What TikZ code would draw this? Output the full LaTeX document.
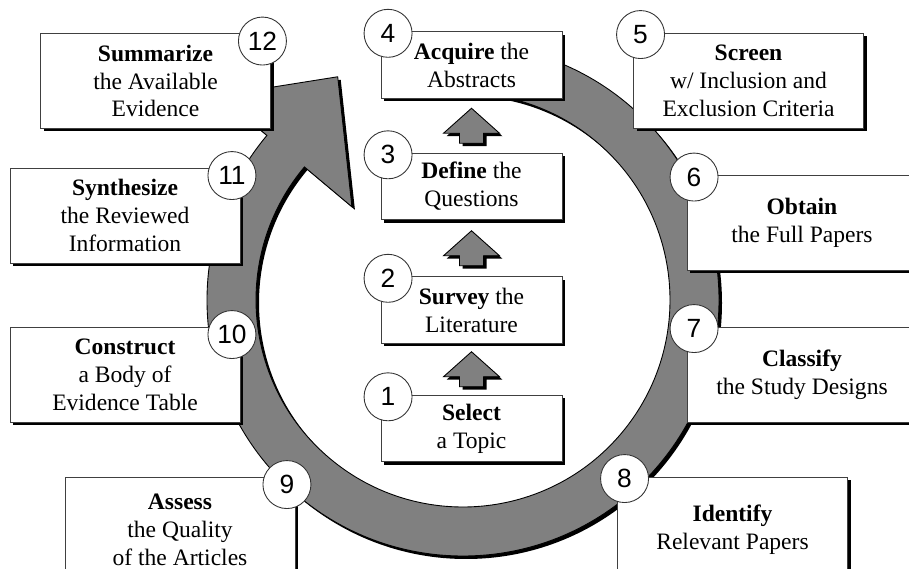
\documentclass[tikz,border=0pt]{standalone}
\usepackage{fontspec}
\setmainfont{Liberation Serif}
\newfontfamily\numfont{Liberation Sans}
\usetikzlibrary{calc,shadows}

\tikzset{
  blackshadow/.style={drop shadow={shadow xshift=0.06cm, shadow yshift=-0.06cm, fill=black, opacity=1}},
  stepbox/.style={draw=black!75, line width=0.5pt, fill=white, blackshadow, align=center, inner sep=0pt,
    minimum width=4.6cm, minimum height=1.9cm, font=\fontsize{13.4}{15.9}\selectfont},
  smallbox/.style={stepbox, minimum width=3.62cm, minimum height=1.33cm},
  lowbox/.style={stepbox, minimum height=2.12cm},
  num/.style={circle, draw=black!80, line width=0.5pt, fill=white, minimum size=0.96cm, inner sep=0pt,
    font=\numfont\fontsize{15}{15}\selectfont},
  uparrow/.style={draw=black, line width=0.5pt, fill=gray, blackshadow}
}

\begin{document}
\begin{tikzpicture}
            \useasboundingbox (0,0) rectangle (18.18,-11.38);
            \clip (0,0) rectangle (18.18,-11.38);

            % big circular arrow behind the boxes
            \coordinate (C) at (9.26,-6.0);
            \filldraw[fill=gray, draw=black, line width=0.5pt, blackshadow]
                ($(C)+(90:5.12)$) arc[start angle=90, end angle=-220, radius=5.12]
                -- ($(C)+(140:6.36)$) -- ($(C)+(119.3:5.12)$) -- ($(C)+(140:2.9)$)
                -- ($(C)+(140:4.14)$) arc[start angle=140, end angle=450, radius=4.14] -- cycle;

            % middle column
            \node[smallbox] (SEL) at (9.43,-8.57) {\textbf{Select}\\a Topic};
            \node[smallbox] (SUR) at (9.43,-6.2) {\textbf{Survey} the\\Literature};
            \node[smallbox] (DEF) at (9.43,-3.73) {\textbf{Define} the\\Questions};
            \node[smallbox] (ACQ) at (9.43,-1.3) {\textbf{Acquire} the\\Abstracts};

            % right side
            \node[stepbox] (SCR) at (14.97,-1.61) {\textbf{Screen}\\w/ Inclusion and\\Exclusion Criteria};
            \node[stepbox] (OBT) at (16.04,-4.46) {\textbf{Obtain}\\the Full Papers};
            \node[stepbox] (CLA) at (16.04,-7.49) {\textbf{Classify}\\the Study Designs};
            \node[lowbox] (IDE) at (14.65,-10.6) {\textbf{Identify}\\Relevant Papers};

            % left side
            \node[lowbox] (ASS) at (3.6,-10.6) {\textbf{Assess}\\the Quality\\of the Articles};
            \node[stepbox] (CON) at (2.5,-7.49) {\textbf{Construct}\\a Body of\\Evidence Table};
            \node[stepbox] (SYN) at (2.5,-4.31) {\textbf{Synthesize}\\the Reviewed\\Information};
            \node[stepbox] (SUM) at (3.11,-1.62) {\textbf{Summarize}\\the Available\\Evidence};

            % step numbers
            \node[num] (N1) at ([shift={(0.15,-0.04)}]SEL.north west) {1};
            \node[num] (N2) at ([shift={(0.15,-0.04)}]SUR.north west) {2};
            \node[num] (N3) at ([shift={(0.15,-0.04)}]DEF.north west) {3};
            \node[num] (N4) at ([shift={(0.15,-0.04)}]ACQ.north west) {4};
            \node[num] (N5) at ([shift={(0.15,-0.04)}]SCR.north west) {5};
            \node[num] (N6) at ([shift={(0.15,-0.04)}]OBT.north west) {6};
            \node[num] (N7) at ([shift={(0.15,-0.04)}]CLA.north west) {7};
            \node[num] (N8) at ([shift={(0.15,-0.04)}]IDE.north west) {8};
            \node[num] (N9) at ([shift={(-0.17,-0.16)}]ASS.north east) {9};
            \node[num] (N10) at ([shift={(-0.17,-0.16)}]CON.north east) {10};
            \node[num] (N11) at ([shift={(-0.17,-0.16)}]SYN.north east) {11};
            \node[num] (N12) at ([shift={(-0.17,-0.16)}]SUM.north east) {12};

            % block arrows up the middle column
            \foreach \lo/\hi in {SEL/SUR, SUR/DEF, DEF/ACQ}
                \draw[uparrow] ($(\lo.north)!0.5!(\hi.south)$) ++(-0.24,-0.35) -- ++(0,0.2) -- ++(-0.32,0)
                    -- ++(0.56,0.5) -- ++(0.56,-0.5) -- ++(-0.32,0) -- ++(0,-0.2) -- cycle;
\end{tikzpicture}
\end{document}
